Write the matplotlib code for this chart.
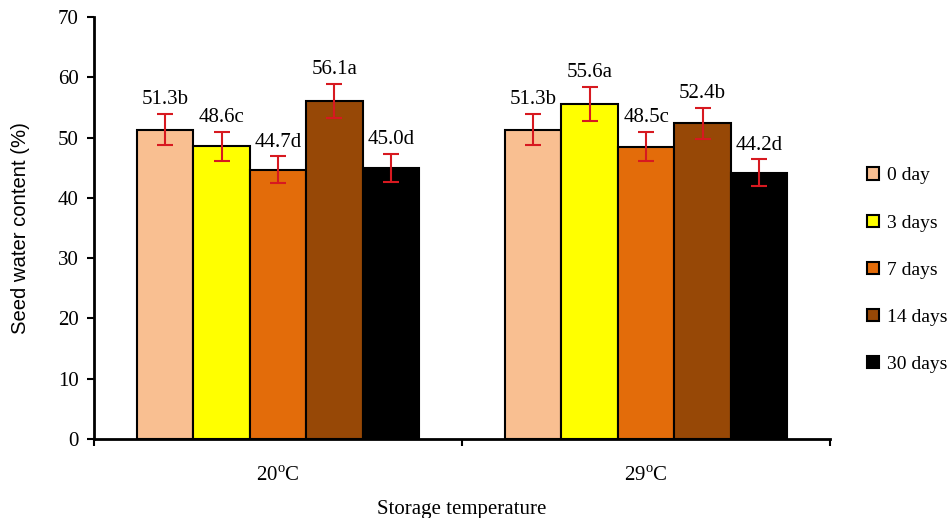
import matplotlib
matplotlib.use("Agg")
import matplotlib.pyplot as plt
import numpy as np

groups = ["20$^{\\mathrm{o}}$C", "29$^{\\mathrm{o}}$C"]
series = ["0 day", "3 days", "7 days", "14 days", "30 days"]
values = {
    "0 day": [51.3, 51.3],
    "3 days": [48.6, 55.6],
    "7 days": [44.7, 48.5],
    "14 days": [56.1, 52.4],
    "30 days": [45.0, 44.2],
}
errors = {
    "0 day": [2.6, 2.6],
    "3 days": [2.4, 2.8],
    "7 days": [2.2, 2.4],
    "14 days": [2.8, 2.6],
    "30 days": [2.3, 2.2],
}
letters = {
    "0 day": ["b", "b"],
    "3 days": ["c", "a"],
    "7 days": ["d", "c"],
    "14 days": ["a", "b"],
    "30 days": ["d", "d"],
}
colors = ["#F9BF91", "#FFFF00", "#E36C0A", "#974806", "#000000"]

plt.rcParams["font.family"] = ["Liberation Serif", "DejaVu Serif"]
plt.rcParams["mathtext.fontset"] = "custom"
plt.rcParams["mathtext.rm"] = "Liberation Serif"

fig = plt.figure(figsize=(9.53, 5.18), dpi=100)
ax = fig.add_axes([0.0986, 0.1525, 0.7725, 0.8145])

centers = np.arange(len(groups)) + 0.5
w = 0.1533
n = len(series)
for i, s in enumerate(series):
    x = centers + (i - (n - 1) / 2) * w
    ax.bar(x, values[s], width=w, color=colors[i], edgecolor="black", linewidth=1.5, label=s, zorder=2)
    ax.errorbar(x, values[s], yerr=errors[s], fmt="none", ecolor="#D71920", elinewidth=1.5, capsize=6, capthick=1.5, zorder=3)
    for xi, v, e, l in zip(x, values[s], errors[s], letters[s]):
        ax.text(xi, v + e + 0.8, f"{v:.1f}{l}", ha="center", va="bottom", fontsize=15)

ax.set_xlim(0, len(groups))
ax.set_ylim(0, 70)
ax.set_yticks(np.arange(0, 71, 10))
ax.set_xticks(np.arange(0, len(groups) + 1))
ax.set_xticklabels([])
ax.set_xticks(centers, minor=True)
ax.set_xticklabels(groups, minor=True, fontsize=15)
ax.tick_params(axis="x", which="minor", length=0, pad=20)
ax.tick_params(axis="x", which="major", length=5, width=1.5, direction="out")
ax.tick_params(axis="y", length=5, width=1.5, direction="out", labelsize=15, pad=6)
for sp in ["top", "right"]:
    ax.spines[sp].set_visible(False)
for sp in ["left", "bottom"]:
    ax.spines[sp].set_linewidth(2)

ax.set_ylabel("Seed water content (%)", fontsize=14.6, family=["Liberation Sans"], labelpad=20)
ax.set_xlabel("Storage temperature", fontsize=15)
ax.xaxis.set_label_coords(0.5, -0.145)

leg = ax.legend(loc="center left", bbox_to_anchor=(1.05, 0.40), frameon=False, fontsize=14,
                handlelength=0.6, handleheight=0.6, labelspacing=1.55, handletextpad=0.45,
                borderaxespad=0, borderpad=0)

fig.savefig("out.png", dpi=100)
